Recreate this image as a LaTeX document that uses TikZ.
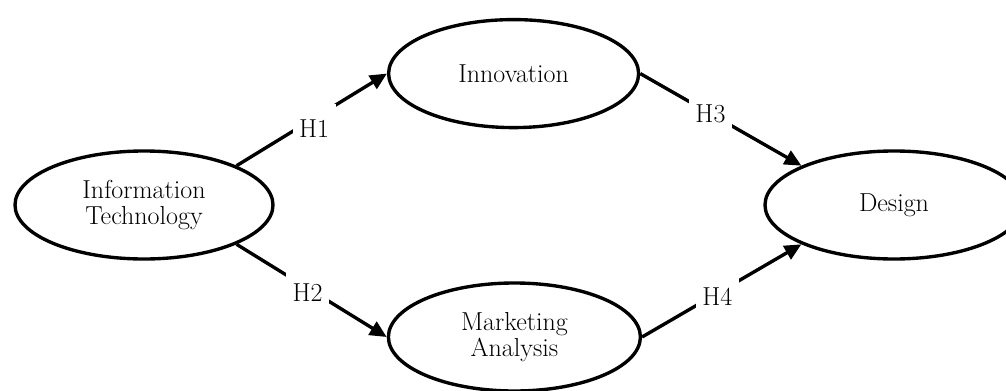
\documentclass[tikz,border=0pt]{standalone}
\usepackage{fontspec}
\usetikzlibrary{shapes.geometric,arrows.meta}
\begin{document}
\begin{tikzpicture}[line width=2.4pt, font=\fontsize{18.5}{18}\selectfont]
    \tikzstyle{construct}=[ellipse,draw,line width=2.4pt,minimum width=6.45cm,minimum height=2.7cm,align=center]
    \tikzstyle{link}=[-{Triangle[length=4.2mm,width=3.8mm]}]
    \tikzstyle{hyp}=[fill=white,inner xsep=1.6mm,inner ysep=4mm]

    \useasboundingbox (0,0) rectangle (25.15,9.75);

    \node[construct] (it) at (3.6,4.625) {Information\\Technology};
    \node[construct,minimum width=6.25cm] (inn) at (12.84,7.91) {Innovation};
    \node[construct,minimum width=6.3cm] (mkt) at (12.86,1.325) {Marketing\\Analysis};
    \node[construct] (des) at (22.35,4.625) {Design};

    \draw[link] (it.23) -- node[hyp,xshift=0.6mm,yshift=-2.3mm]{H1} (inn.west);
    \draw[link] (it.-23) -- node[hyp,xshift=-1mm,yshift=-0.4mm]{H2} (mkt.west);
    \draw[link] (inn.east) -- node[hyp,xshift=-2.6mm,yshift=1.5mm]{H3} (des.157);
    \draw[link] (mkt.east) -- node[hyp,xshift=-1.1mm,yshift=-1.6mm]{H4} (des.203);
\end{tikzpicture}
\end{document}
